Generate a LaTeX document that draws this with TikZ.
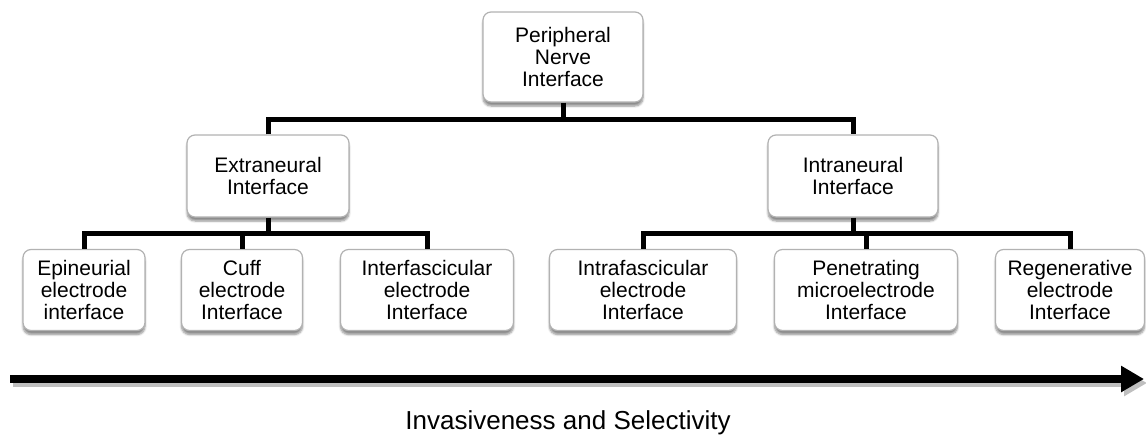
\documentclass[tikz,border=0pt]{standalone}
\usepackage{fontspec}
\setmainfont{Liberation Sans}
\usetikzlibrary{arrows.meta,shadows.blur}
\tikzset{
    box/.style={draw=gray!60, line width=1.2pt, rounded corners=8pt, fill=white,
        align=center, inner sep=0pt, minimum height=81pt,
        blur shadow={shadow xshift=0pt, shadow yshift=-4pt, shadow blur steps=6, shadow opacity=45},
        font=\fontsize{21}{22}\selectfont},
    link/.style={line width=5pt},
    axisline/.style={line width=8pt, -{Triangle[length=23pt, width=25pt]}},
}
\begin{document}
\begin{tikzpicture}[x=1pt, y=-1pt]
    \useasboundingbox (0,0) rectangle (1146,437);
    % Root
    \node[box, minimum width=160pt, minimum height=90pt] (pni) at (563,57) {Peripheral\\Nerve\\Interface};
    % Second level
    \node[box, minimum width=162pt, minimum height=82pt] (extra) at (268,176) {Extraneural\\Interface};
    \node[box, minimum width=170pt, minimum height=82pt] (intra) at (853,176) {Intraneural\\Interface};
    % Third level
    \node[box, minimum width=122pt] (epi) at (84,290) {Epineurial\\electrode\\interface};
    \node[box, minimum width=121pt] (cuff) at (242,290) {Cuff\\electrode\\Interface};
    \node[box, minimum width=173pt] (inter) at (427,290) {Interfascicular\\electrode\\Interface};
    \node[box, minimum width=187pt] (intraf) at (643,290) {Intrafascicular\\electrode\\Interface};
    \node[box, minimum width=183pt] (pen) at (866,290) {Penetrating\\microelectrode\\Interface};
    \node[box, minimum width=149pt] (regen) at (1070,290) {Regenerative\\electrode\\Interface};
    % Bus lines
    \coordinate (topbus) at (563,119);
    \coordinate (extrabus) at (268,233);
    \coordinate (intrabus) at (853,233);
    \draw[link] (pni.south) -- (topbus); % Root stem
    \draw[link] (extra.north) |- (topbus) -| (intra.north); % Top bus
    \draw[link] (extra.south) -- (extrabus); % Extraneural stem
    \draw[link] (epi.north) |- (extrabus) -| (inter.north); % Extraneural bus
    \draw[link] (cuff.north) -- (cuff.north |- extrabus);
    \draw[link] (intra.south) -- (intrabus); % Intraneural stem
    \draw[link] (intraf.north) |- (intrabus) -| (regen.north); % Intraneural bus
    \draw[link] (pen.north) -- (pen.north |- intrabus);
    % Axis arrow with its shadow
    \coordinate (axisstart) at (10,379);
    \coordinate (axisend) at (1144,379);
    \draw[axisline, black!25] ([shift={(3,4)}]axisstart) -- ([shift={(3,4)}]axisend); % Shadow
    \draw[axisline] (axisstart) -- (axisend);
    \node[font=\fontsize{26}{30}\selectfont] (axislabel) at (568,423) {Invasiveness and Selectivity};
\end{tikzpicture}
\end{document}
